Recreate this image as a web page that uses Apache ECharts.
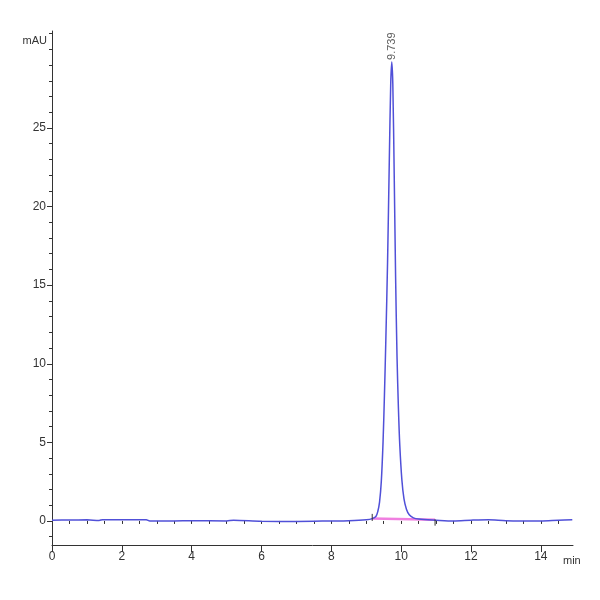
<!DOCTYPE html>
<html>
<head>
<meta charset="utf-8">
<script src="https://cdn.jsdelivr.net/npm/echarts@6/dist/echarts.min.js"></script>
<style>
  html, body { margin: 0; padding: 0; background: #fff; }
  #chart { width: 600px; height: 600px; }
</style>
</head>
<body>
<div id="chart"></div>
<script>
// signal: [time (min), absorbance (mAU)]
const signal = [
  [0.0, 0.05], [0.5, 0.06], [1.0, 0.07], [1.35, 0.03], [1.45, 0.08], [2.0, 0.08],
  [2.7, 0.07], [2.8, 0.0], [3.5, 0.0], [4.0, 0.02], [5.0, 0.0], [5.2, 0.05],
  [6.0, -0.02], [7.0, -0.03], [8.0, 0.0], [8.5, 0.02], [9.0, 0.08], [9.17, 0.15],
  [9.28, 0.3], [9.33, 0.6], [9.38, 1.2], [9.43, 2.5], [9.48, 5.0], [9.52, 8.0],
  [9.56, 11.5], [9.61, 16.5], [9.66, 23.0], [9.70, 27.8], [9.73, 29.2], [9.76, 27.8],
  [9.80, 22.0], [9.84, 15.5], [9.88, 10.5], [9.92, 7.2], [9.96, 4.8], [10.02, 2.6],
  [10.08, 1.4], [10.15, 0.75], [10.23, 0.4], [10.35, 0.2], [10.5, 0.12], [11.0, 0.05],
  [11.5, 0.0], [12.0, 0.05], [12.5, 0.08], [13.0, 0.02], [14.0, 0.0], [14.5, 0.05],
  [14.9, 0.08]
];
// integration baseline and its start/end marks
const baseline = [[9.17, 0.15], [10.97, 0.08]];
const baseMarks = [[9.17, 0.45], [9.17, 0.0], null, [10.97, 0.1], [10.97, -0.3]];
const peakTime = 9.73;
const peakHeight = 29.2;
const peakLabel = '9.739';

const xMajor = [0, 2, 4, 6, 8, 10, 12, 14];
const xMinor = [];
for (let i = 0; i <= 29; i++) xMinor.push(i * 0.5);
const yMajor = [0, 5, 10, 15, 20, 25];
const yMinor = [];
for (let i = -1; i <= 31; i++) yMinor.push(i);

const font = "'Liberation Sans', Arial, sans-serif";
const xMin = 0, xMax = 14.92, yMin = -1.53, yMax = 31.17;

const chart = echarts.init(document.getElementById('chart'));

const axisLineStyle = { color: '#333', width: 1 };

chart.setOption({
  animation: false,
  grid: { left: 52, right: 27, top: 31, bottom: 55 },
  xAxis: [
    {
      type: 'value', min: xMin, max: xMax,
      axisLine: { onZero: false, lineStyle: axisLineStyle },
      axisTick: { customValues: xMajor, length: 7, lineStyle: axisLineStyle },
      axisLabel: { customValues: xMajor, color: '#333', fontSize: 12, fontFamily: font, margin: 6 },
      splitLine: { show: false }
    },
    {
      type: 'value', min: xMin, max: xMax, position: 'bottom',
      axisLine: { show: false },
      axisTick: { customValues: xMinor, length: 3, lineStyle: axisLineStyle },
      axisLabel: { show: false },
      splitLine: { show: false }
    }
  ],
  yAxis: [
    {
      type: 'value', min: yMin, max: yMax,
      axisLine: { show: true, onZero: false, lineStyle: axisLineStyle },
      axisTick: { show: true, customValues: yMajor, length: 5, lineStyle: axisLineStyle },
      axisLabel: { customValues: yMajor, color: '#333', fontSize: 12, fontFamily: font, margin: 6 },
      splitLine: { show: false }
    },
    {
      type: 'value', min: yMin, max: yMax, position: 'left',
      axisLine: { show: false },
      axisTick: { show: true, customValues: yMinor, length: 3, lineStyle: axisLineStyle },
      axisLabel: { show: false },
      splitLine: { show: false }
    }
  ],
  series: [
    {
      type: 'line', data: baseline, symbol: 'none',
      lineStyle: { color: '#f07fe0', width: 2.5 }
    },
    {
      type: 'line', data: signal, symbol: 'none', smooth: 0.3,
      lineStyle: { color: '#5050d8', width: 1.5 }
    },
    {
      type: 'line', data: baseMarks, symbol: 'none', connectNulls: false,
      lineStyle: { color: '#333', width: 1 }
    },
    {
      type: 'scatter', data: [[peakTime, peakHeight]], symbolSize: 0,
      label: {
        show: true, formatter: peakLabel, position: 'top', distance: 2,
        rotate: 90, align: 'left', verticalAlign: 'middle',
        color: '#333', fontSize: 11, fontFamily: font
      }
    }
  ],
  graphic: [
    { type: 'text', right: 553, top: 35, style: { text: 'mAU', fill: '#333', fontSize: 11, fontFamily: font } },
    { type: 'text', left: 563, top: 555, style: { text: 'min', fill: '#333', fontSize: 11, fontFamily: font } }
  ]
});
</script>
</body>
</html>
